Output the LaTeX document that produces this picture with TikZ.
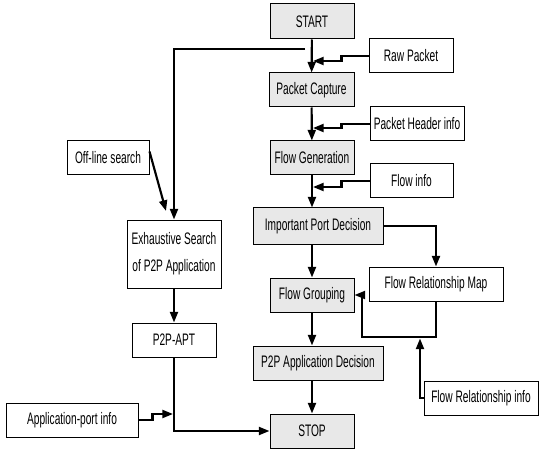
\documentclass[tikz,border=0pt]{standalone}
\usepackage{fontspec}
\setmainfont{Liberation Sans}[FakeStretch=0.61]
\usetikzlibrary{arrows.meta}
\definecolor{boxgray}{RGB}{232,232,232}
\begin{document}
\begin{tikzpicture}[x=0.75pt,y=-0.75pt,
  box/.style={draw, line width=0.75pt, minimum height=25.5pt, inner sep=0pt,
    font=\fontsize{12.5}{15}\selectfont, align=center},
  gbox/.style={box, fill=boxgray},
  arr/.style={line width=1.6pt, -{Triangle[length=8pt,width=6pt]}},
  ln/.style={line width=1.6pt}]
\useasboundingbox (0,0) rectangle (539,449);
% main column
\node[gbox, minimum width=63pt, minimum height=26.25pt] (start) at (312,21.5) {START};
\node[gbox, minimum width=63.75pt] (pc) at (311.5,90) {Packet Capture};
\node[gbox, minimum width=63pt] (fg) at (312,158) {Flow Generation};
\node[gbox, minimum width=97.5pt, minimum height=27pt] (ipd) at (318,226) {Important Port Decision};
\node[gbox, minimum width=63pt] (fgr) at (312,295) {Flow Grouping};
\node[gbox, minimum width=97.5pt] (pad) at (318,363) {P2P Application Decision};
\node[gbox, minimum width=63pt] (stop) at (312,431) {STOP};
% right inputs
\node[box, minimum width=63pt] (rp) at (411,56) {Raw Packet};
\node[box, minimum width=70.5pt] (phi) at (417,124) {Packet Header info};
\node[box, minimum width=62.25pt] (fi) at (411.5,181) {Flow info};
\node[box, minimum width=100.5pt] (frm) at (436,284) {Flow Relationship Map};
\node[box, minimum width=85.5pt] (fri) at (481,398) {Flow Relationship info};
% left side
\node[box, minimum width=61.5pt] (os) at (108,158) {Off-line search};
\node[box, minimum width=70.5pt, minimum height=51pt, font=\fontsize{12.5}{20}\selectfont] (es) at (174,254) {Exhaustive Search\\of P2P Application};
\node[box, minimum width=63pt] (apt) at (174,340) {P2P-APT};
\node[box, minimum width=99pt] (api) at (72,420) {Application-port info};
% coordinates
\coordinate (j1) at (313,61);
\coordinate (j2) at (313,128);
\coordinate (j3) at (313,187);
\coordinate (tap) at (305,49);
\coordinate (ostip) at (166,211);
\coordinate (aptip) at (173,414);
\coordinate (loopa) at (362,337);
\coordinate (loopt) at (420,338.5);
% main arrows
\draw[arr] (start) -- (pc);
\draw[arr] (pc) -- (fg);
\draw[arr] (fg.south) -- (fg.south |- ipd.north);
\draw[arr] (ipd.south -| fgr) -- (fgr.north);
\draw[arr] (fgr.south) -- (fgr.south |- pad.north);
\draw[arr] (pad.south -| stop) -- (stop.north);
% side inputs
\draw[arr] (rp.west) -- ++(-27,0) |- (j1);
\draw[arr] (phi.west) -- ++(-28,0) |- (j2);
\draw[arr] (fi.west) -- ++(-28,0) |- (j3);
% relationship map loop
\draw[arr] (ipd.east) -| (frm.north);
\draw[arr] (frm.south) |- (loopa) |- (fgr.east);
\draw[arr] (fri.west) -| (loopt);
% left branch
\draw[arr] (tap) -| (es.north);
\draw[arr] ([yshift=-8.25pt]os.north east) -- (ostip);
\draw[arr] (es) -- (apt);
\draw[arr] (apt.south) |- (stop.west);
\draw[arr] (api.east) -- ++(14,0) |- (aptip);
\end{tikzpicture}
\end{document}
